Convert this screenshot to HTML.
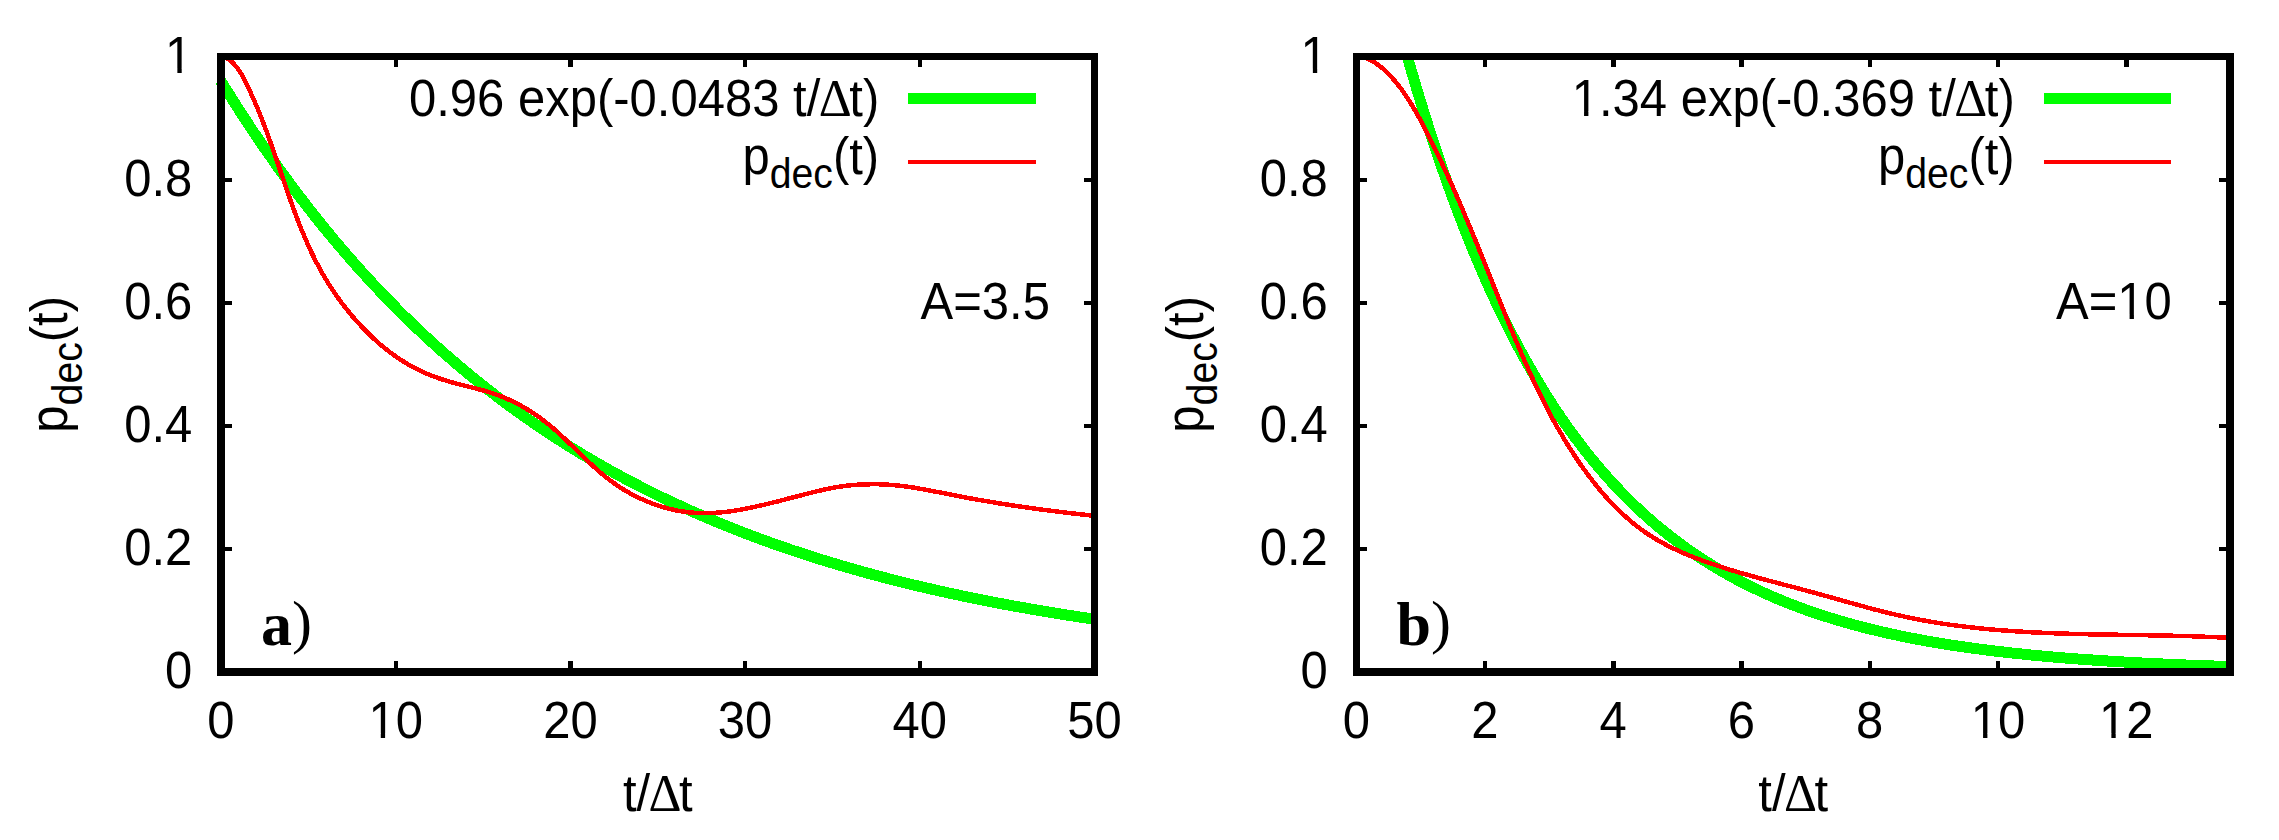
<!DOCTYPE html>
<html><head><meta charset="utf-8"><title>p_dec(t)</title>
<style>
html,body{margin:0;padding:0;background:#fff;}
svg{display:block}
text{font-family:"Liberation Sans",sans-serif;font-size:49.0px;fill:#000}
.sym{font-family:"Liberation Serif",serif;}
.sub{font-size:39.2px}
.lab{font-family:"Liberation Serif",serif;font-weight:bold;font-size:62px}
</style></head><body>
<svg width="2279" height="840" viewBox="0 0 2279 840">
<rect x="0" y="0" width="2279" height="840" fill="#fff"/>

<g shape-rendering="crispEdges">
<rect x="219" y="661" width="4" height="7" fill="#000"/>
<rect x="219" y="60" width="4" height="7" fill="#000"/>
<rect x="394" y="661" width="4" height="7" fill="#000"/>
<rect x="394" y="60" width="4" height="7" fill="#000"/>
<rect x="568" y="661" width="5" height="7" fill="#000"/>
<rect x="568" y="60" width="5" height="7" fill="#000"/>
<rect x="743" y="661" width="4" height="7" fill="#000"/>
<rect x="743" y="60" width="4" height="7" fill="#000"/>
<rect x="918" y="661" width="4" height="7" fill="#000"/>
<rect x="918" y="60" width="4" height="7" fill="#000"/>
<rect x="1092" y="661" width="5" height="7" fill="#000"/>
<rect x="1092" y="60" width="5" height="7" fill="#000"/>
<rect x="225" y="547" width="7" height="4" fill="#000"/>
<rect x="1084" y="547" width="7" height="4" fill="#000"/>
<rect x="225" y="424" width="7" height="4" fill="#000"/>
<rect x="1084" y="424" width="7" height="4" fill="#000"/>
<rect x="225" y="301" width="7" height="4" fill="#000"/>
<rect x="1084" y="301" width="7" height="4" fill="#000"/>
<rect x="225" y="178" width="7" height="4" fill="#000"/>
<rect x="1084" y="178" width="7" height="4" fill="#000"/>
<path d="M221.0,81.1 L223.9,85.9 L226.8,90.6 L229.8,95.3 L232.7,99.9 L235.6,104.5 L238.5,109.1 L241.4,113.6 L244.4,118.1 L247.3,122.5 L250.2,127.0 L253.1,131.4 L256.1,135.7 L259.0,140.0 L261.9,144.3 L264.8,148.5 L267.7,152.8 L270.7,156.9 L273.6,161.1 L276.5,165.2 L279.4,169.3 L282.3,173.3 L285.3,177.3 L288.2,181.3 L291.1,185.2 L294.0,189.2 L297.0,193.0 L299.9,196.9 L302.8,200.7 L305.7,204.5 L308.6,208.3 L311.6,212.0 L314.5,215.7 L317.4,219.4 L320.3,223.0 L323.2,226.6 L326.2,230.2 L329.1,233.8 L332.0,237.3 L334.9,240.8 L337.9,244.3 L340.8,247.7 L343.7,251.1 L346.6,254.5 L349.5,257.8 L352.5,261.2 L355.4,264.5 L358.3,267.8 L361.2,271.0 L364.1,274.2 L367.1,277.4 L370.0,280.6 L372.9,283.8 L375.8,286.9 L378.8,290.0 L381.7,293.1 L384.6,296.1 L387.5,299.1 L390.4,302.1 L393.4,305.1 L396.3,308.1 L399.2,311.0 L402.1,313.9 L405.0,316.8 L408.0,319.6 L410.9,322.5 L413.8,325.3 L416.7,328.1 L419.7,330.8 L422.6,333.6 L425.5,336.3 L428.4,339.0 L431.3,341.7 L434.3,344.3 L437.2,347.0 L440.1,349.6 L443.0,352.2 L445.9,354.8 L448.9,357.3 L451.8,359.8 L454.7,362.3 L457.6,364.8 L460.6,367.3 L463.5,369.8 L466.4,372.2 L469.3,374.6 L472.2,377.0 L475.2,379.4 L478.1,381.7 L481.0,384.1 L483.9,386.4 L486.8,388.7 L489.8,390.9 L492.7,393.2 L495.6,395.5 L498.5,397.7 L501.5,399.9 L504.4,402.1 L507.3,404.2 L510.2,406.4 L513.1,408.5 L516.1,410.7 L519.0,412.8 L521.9,414.8 L524.8,416.9 L527.7,419.0 L530.7,421.0 L533.6,423.0 L536.5,425.0 L539.4,427.0 L542.4,429.0 L545.3,430.9 L548.2,432.9 L551.1,434.8 L554.0,436.7 L557.0,438.6 L559.9,440.5 L562.8,442.3 L565.7,444.2 L568.6,446.0 L571.6,447.8 L574.5,449.6 L577.4,451.4 L580.3,453.2 L583.3,455.0 L586.2,456.7 L589.1,458.4 L592.0,460.2 L594.9,461.9 L597.9,463.6 L600.8,465.2 L603.7,466.9 L606.6,468.5 L609.5,470.2 L612.5,471.8 L615.4,473.4 L618.3,475.0 L621.2,476.6 L624.2,478.2 L627.1,479.7 L630.0,481.3 L632.9,482.8 L635.8,484.3 L638.8,485.8 L641.7,487.3 L644.6,488.8 L647.5,490.3 L650.4,491.8 L653.4,493.2 L656.3,494.6 L659.2,496.1 L662.1,497.5 L665.1,498.9 L668.0,500.3 L670.9,501.7 L673.8,503.0 L676.7,504.4 L679.7,505.7 L682.6,507.1 L685.5,508.4 L688.4,509.7 L691.3,511.0 L694.3,512.3 L697.2,513.6 L700.1,514.9 L703.0,516.1 L706.0,517.4 L708.9,518.6 L711.8,519.9 L714.7,521.1 L717.6,522.3 L720.6,523.5 L723.5,524.7 L726.4,525.9 L729.3,527.1 L732.2,528.2 L735.2,529.4 L738.1,530.5 L741.0,531.7 L743.9,532.8 L746.9,533.9 L749.8,535.0 L752.7,536.1 L755.6,537.2 L758.5,538.3 L761.5,539.4 L764.4,540.5 L767.3,541.5 L770.2,542.6 L773.1,543.6 L776.1,544.6 L779.0,545.7 L781.9,546.7 L784.8,547.7 L787.8,548.7 L790.7,549.7 L793.6,550.7 L796.5,551.6 L799.4,552.6 L802.4,553.6 L805.3,554.5 L808.2,555.5 L811.1,556.4 L814.0,557.3 L817.0,558.3 L819.9,559.2 L822.8,560.1 L825.7,561.0 L828.7,561.9 L831.6,562.8 L834.5,563.6 L837.4,564.5 L840.3,565.4 L843.3,566.2 L846.2,567.1 L849.1,567.9 L852.0,568.8 L854.9,569.6 L857.9,570.4 L860.8,571.2 L863.7,572.0 L866.6,572.9 L869.6,573.6 L872.5,574.4 L875.4,575.2 L878.3,576.0 L881.2,576.8 L884.2,577.5 L887.1,578.3 L890.0,579.1 L892.9,579.8 L895.8,580.5 L898.8,581.3 L901.7,582.0 L904.6,582.7 L907.5,583.5 L910.5,584.2 L913.4,584.9 L916.3,585.6 L919.2,586.3 L922.1,587.0 L925.1,587.6 L928.0,588.3 L930.9,589.0 L933.8,589.7 L936.7,590.3 L939.7,591.0 L942.6,591.6 L945.5,592.3 L948.4,592.9 L951.4,593.6 L954.3,594.2 L957.2,594.8 L960.1,595.4 L963.0,596.1 L966.0,596.7 L968.9,597.3 L971.8,597.9 L974.7,598.5 L977.6,599.1 L980.6,599.6 L983.5,600.2 L986.4,600.8 L989.3,601.4 L992.3,601.9 L995.2,602.5 L998.1,603.1 L1001.0,603.6 L1003.9,604.2 L1006.9,604.7 L1009.8,605.3 L1012.7,605.8 L1015.6,606.3 L1018.5,606.9 L1021.5,607.4 L1024.4,607.9 L1027.3,608.4 L1030.2,608.9 L1033.2,609.4 L1036.1,609.9 L1039.0,610.4 L1041.9,610.9 L1044.8,611.4 L1047.8,611.9 L1050.7,612.4 L1053.6,612.9 L1056.5,613.3 L1059.4,613.8 L1062.4,614.3 L1065.3,614.8 L1068.2,615.2 L1071.1,615.7 L1074.1,616.1 L1077.0,616.6 L1079.9,617.0 L1082.8,617.5 L1085.7,617.9 L1088.7,618.3 L1091.6,618.8 L1094.5,619.2" fill="none" stroke="#00ff00" stroke-width="11" stroke-linejoin="round"/>
<path d="M221.7,55.3 L226.2,57.6 L230.1,60.4 L233.6,63.6 L236.7,67.2 L239.5,71.2 L242.1,75.3 L244.4,79.7 L246.6,84.1 L248.8,88.6 L250.9,93.2 L252.9,97.7 L254.9,102.3 L256.9,106.9 L258.8,111.5 L260.7,116.2 L262.5,120.9 L264.3,125.5 L266.1,130.2 L267.8,134.9 L269.5,139.7 L271.2,144.4 L272.9,149.1 L274.5,153.9 L276.2,158.6 L277.8,163.4 L279.4,168.1 L281.0,172.9 L282.6,177.6 L284.3,182.4 L285.9,187.1 L287.5,191.8 L289.2,196.6 L290.8,201.3 L292.5,206.0 L294.2,210.7 L295.9,215.4 L297.7,220.0 L299.5,224.7 L301.4,229.3 L303.3,233.9 L305.2,238.5 L307.2,243.0 L309.2,247.6 L311.3,252.1 L313.5,256.5 L315.7,261.0 L318.0,265.4 L320.3,269.8 L322.8,274.1 L325.3,278.4 L327.9,282.6 L330.6,286.9 L333.3,291.0 L336.1,295.1 L339.0,299.2 L342.0,303.3 L345.0,307.2 L348.2,311.2 L351.3,315.0 L354.6,318.8 L358.0,322.6 L361.4,326.3 L364.9,329.9 L368.4,333.5 L372.0,337.0 L375.7,340.4 L379.5,343.8 L383.4,347.0 L387.3,350.1 L391.3,353.2 L395.3,356.1 L399.5,358.9 L403.7,361.6 L407.9,364.2 L412.3,366.6 L416.7,368.9 L421.2,371.1 L425.7,373.2 L430.3,375.1 L434.9,376.9 L439.6,378.5 L444.4,380.1 L449.1,381.6 L453.9,382.9 L458.7,384.2 L463.5,385.4 L468.3,386.6 L473.1,387.8 L478.0,389.1 L482.8,390.3 L487.5,391.7 L492.3,393.2 L497.0,394.8 L501.7,396.6 L506.3,398.5 L510.9,400.6 L515.5,402.8 L519.9,405.1 L524.4,407.6 L528.7,410.2 L532.9,412.9 L537.1,415.7 L541.2,418.6 L545.1,421.7 L549.0,424.8 L552.8,428.0 L556.6,431.3 L560.3,434.7 L564.0,438.1 L567.6,441.5 L571.2,445.0 L574.7,448.5 L578.3,452.0 L581.9,455.5 L585.5,458.9 L589.1,462.4 L592.8,465.8 L596.5,469.1 L600.2,472.4 L604.0,475.6 L607.9,478.7 L611.9,481.7 L616.0,484.6 L620.2,487.4 L624.4,490.1 L628.8,492.6 L633.2,495.0 L637.7,497.3 L642.3,499.4 L646.9,501.4 L651.6,503.3 L656.4,505.0 L661.1,506.6 L666.0,507.9 L670.8,509.2 L675.7,510.3 L680.6,511.2 L685.5,511.9 L690.4,512.5 L695.4,512.9 L700.3,513.1 L705.2,513.2 L710.1,513.1 L715.0,512.8 L719.9,512.5 L724.9,512.0 L729.8,511.4 L734.7,510.6 L739.6,509.8 L744.5,508.9 L749.4,508.0 L754.3,506.9 L759.2,505.8 L764.1,504.7 L769.0,503.5 L774.0,502.3 L778.9,501.1 L783.8,499.8 L788.7,498.5 L793.6,497.3 L798.5,496.0 L803.4,494.7 L808.3,493.4 L813.2,492.2 L818.2,491.0 L823.1,489.8 L828.0,488.8 L832.9,487.8 L837.8,487.0 L842.7,486.3 L847.7,485.6 L852.6,485.1 L857.5,484.7 L862.4,484.4 L867.4,484.3 L872.3,484.2 L877.2,484.2 L882.1,484.4 L887.1,484.6 L892.0,485.0 L896.9,485.4 L901.9,486.0 L906.8,486.6 L911.7,487.3 L916.7,488.1 L921.6,489.0 L926.5,489.9 L931.5,490.8 L936.4,491.8 L941.3,492.7 L946.3,493.7 L951.2,494.7 L956.2,495.7 L961.1,496.6 L966.0,497.6 L971.0,498.5 L975.9,499.4 L980.9,500.2 L985.8,501.1 L990.8,501.9 L995.7,502.8 L1000.6,503.6 L1005.6,504.3 L1010.5,505.1 L1015.5,505.9 L1020.4,506.6 L1025.4,507.3 L1030.3,508.0 L1035.3,508.7 L1040.2,509.4 L1045.2,510.0 L1050.1,510.7 L1055.1,511.3 L1060.0,511.9 L1065.0,512.5 L1069.9,513.1 L1074.9,513.6 L1079.8,514.2 L1084.8,514.7 L1089.7,515.3 L1094.4,515.7" fill="none" stroke="#ff0000" stroke-width="4.5" stroke-linejoin="round"/>
<rect x="216" y="83" width="1" height="2" fill="#00ff00"/>
<rect x="908" y="93" width="128" height="11" fill="#00ff00"/>
<rect x="908" y="160" width="128" height="4" fill="#ff0000"/>
<rect x="217" y="53" width="881" height="7" fill="#000"/>
<rect x="217" y="668" width="881" height="8" fill="#000"/>
<rect x="217" y="53" width="8" height="623" fill="#000"/>
<rect x="1091" y="53" width="7" height="623" fill="#000"/>
</g>
<text transform="translate(192.3,688.3) scale(1,1.065)" text-anchor="end">0</text>
<text transform="translate(192.3,565.2) scale(1,1.065)" text-anchor="end">0.2</text>
<text transform="translate(192.3,442.1) scale(1,1.065)" text-anchor="end">0.4</text>
<text transform="translate(192.3,319.0) scale(1,1.065)" text-anchor="end">0.6</text>
<text transform="translate(192.3,195.9) scale(1,1.065)" text-anchor="end">0.8</text>
<text transform="translate(192.3,72.8) scale(1,1.065)" text-anchor="end">1</text>
<text transform="translate(221.0,737.5) scale(1,1.065)" text-anchor="middle">0</text>
<text transform="translate(395.7,737.5) scale(1,1.065)" text-anchor="middle">10</text>
<text transform="translate(570.4,737.5) scale(1,1.065)" text-anchor="middle">20</text>
<text transform="translate(745.1,737.5) scale(1,1.065)" text-anchor="middle">30</text>
<text transform="translate(919.8,737.5) scale(1,1.065)" text-anchor="middle">40</text>
<text transform="translate(1094.5,737.5) scale(1,1.065)" text-anchor="middle">50</text>
<text transform="translate(657.8,810.6) scale(1,1.065)" text-anchor="middle">t/<tspan class="sym" dx="-1.5" textLength="33" lengthAdjust="spacingAndGlyphs">Δ</tspan><tspan dx="-2.5">t</tspan></text>
<text transform="translate(67.2,364.3) rotate(-90) scale(1,1.065)" text-anchor="middle">p<tspan class="sub" dy="13.5">dec</tspan><tspan dy="-13.5">(t)</tspan></text>
<text transform="translate(879.2,115.5) scale(1,1.065)" text-anchor="end">0.96 exp(-0.0483 t/<tspan class="sym" dx="-1.5" textLength="33" lengthAdjust="spacingAndGlyphs">Δ</tspan><tspan dx="-2.5">t</tspan>)</text>
<text transform="translate(879.2,173.7) scale(1,1.065)" text-anchor="end">p<tspan class="sub" dy="13.5">dec</tspan><tspan dy="-13.5">(t)</tspan></text>
<text transform="translate(920.5,318.8) scale(1,1.065)" text-anchor="start">A=3.5</text>
<text class="lab" x="261.0" y="645">a<tspan dy="-3" style="font-size:60px;font-weight:normal">)</tspan></text>
<g shape-rendering="crispEdges">
<rect x="1354" y="661" width="5" height="7" fill="#000"/>
<rect x="1354" y="60" width="5" height="7" fill="#000"/>
<rect x="1483" y="661" width="4" height="7" fill="#000"/>
<rect x="1483" y="60" width="4" height="7" fill="#000"/>
<rect x="1611" y="661" width="5" height="7" fill="#000"/>
<rect x="1611" y="60" width="5" height="7" fill="#000"/>
<rect x="1739" y="661" width="5" height="7" fill="#000"/>
<rect x="1739" y="60" width="5" height="7" fill="#000"/>
<rect x="1868" y="661" width="4" height="7" fill="#000"/>
<rect x="1868" y="60" width="4" height="7" fill="#000"/>
<rect x="1996" y="661" width="4" height="7" fill="#000"/>
<rect x="1996" y="60" width="4" height="7" fill="#000"/>
<rect x="2124" y="661" width="5" height="7" fill="#000"/>
<rect x="2124" y="60" width="5" height="7" fill="#000"/>
<rect x="1360" y="547" width="7" height="4" fill="#000"/>
<rect x="2219" y="547" width="7" height="4" fill="#000"/>
<rect x="1360" y="424" width="7" height="4" fill="#000"/>
<rect x="2219" y="424" width="7" height="4" fill="#000"/>
<rect x="1360" y="301" width="7" height="4" fill="#000"/>
<rect x="2219" y="301" width="7" height="4" fill="#000"/>
<rect x="1360" y="178" width="7" height="4" fill="#000"/>
<rect x="2219" y="178" width="7" height="4" fill="#000"/>
<path d="M1407.4,56.5 L1410.1,66.2 L1412.9,75.7 L1415.6,85.0 L1418.4,94.3 L1421.1,103.3 L1423.9,112.3 L1426.6,121.0 L1429.4,129.7 L1432.1,138.2 L1434.9,146.6 L1437.6,154.8 L1440.4,163.0 L1443.1,171.0 L1445.9,178.8 L1448.6,186.6 L1451.4,194.2 L1454.2,201.7 L1456.9,209.1 L1459.7,216.3 L1462.4,223.5 L1465.2,230.5 L1467.9,237.5 L1470.7,244.3 L1473.4,251.0 L1476.2,257.6 L1478.9,264.1 L1481.7,270.5 L1484.4,276.8 L1487.2,283.0 L1489.9,289.1 L1492.7,295.2 L1495.4,301.1 L1498.2,306.9 L1500.9,312.6 L1503.7,318.3 L1506.4,323.8 L1509.2,329.3 L1511.9,334.7 L1514.7,340.0 L1517.4,345.2 L1520.2,350.3 L1522.9,355.4 L1525.7,360.3 L1528.4,365.2 L1531.2,370.0 L1533.9,374.8 L1536.7,379.4 L1539.4,384.0 L1542.2,388.6 L1544.9,393.0 L1547.7,397.4 L1550.4,401.7 L1553.2,406.0 L1555.9,410.1 L1558.7,414.2 L1561.4,418.3 L1564.2,422.3 L1567.0,426.2 L1569.7,430.1 L1572.5,433.8 L1575.2,437.6 L1578.0,441.3 L1580.7,444.9 L1583.5,448.5 L1586.2,452.0 L1589.0,455.4 L1591.7,458.8 L1594.5,462.2 L1597.2,465.5 L1600.0,468.7 L1602.7,471.9 L1605.5,475.0 L1608.2,478.1 L1611.0,481.2 L1613.7,484.2 L1616.5,487.1 L1619.2,490.0 L1622.0,492.9 L1624.7,495.7 L1627.5,498.5 L1630.2,501.2 L1633.0,503.9 L1635.7,506.5 L1638.5,509.1 L1641.2,511.7 L1644.0,514.2 L1646.7,516.7 L1649.5,519.1 L1652.2,521.5 L1655.0,523.9 L1657.7,526.2 L1660.5,528.5 L1663.2,530.7 L1666.0,532.9 L1668.7,535.1 L1671.5,537.3 L1674.3,539.4 L1677.0,541.5 L1679.8,543.5 L1682.5,545.5 L1685.3,547.5 L1688.0,549.5 L1690.8,551.4 L1693.5,553.3 L1696.3,555.2 L1699.0,557.0 L1701.8,558.8 L1704.5,560.6 L1707.3,562.3 L1710.0,564.1 L1712.8,565.7 L1715.5,567.4 L1718.3,569.1 L1721.0,570.7 L1723.8,572.3 L1726.5,573.8 L1729.3,575.4 L1732.0,576.9 L1734.8,578.4 L1737.5,579.9 L1740.3,581.3 L1743.0,582.7 L1745.8,584.1 L1748.5,585.5 L1751.3,586.9 L1754.0,588.2 L1756.8,589.5 L1759.5,590.8 L1762.3,592.1 L1765.0,593.3 L1767.8,594.6 L1770.5,595.8 L1773.3,597.0 L1776.0,598.2 L1778.8,599.3 L1781.5,600.5 L1784.3,601.6 L1787.1,602.7 L1789.8,603.8 L1792.6,604.9 L1795.3,605.9 L1798.1,606.9 L1800.8,608.0 L1803.6,609.0 L1806.3,610.0 L1809.1,610.9 L1811.8,611.9 L1814.6,612.8 L1817.3,613.8 L1820.1,614.7 L1822.8,615.6 L1825.6,616.5 L1828.3,617.3 L1831.1,618.2 L1833.8,619.0 L1836.6,619.9 L1839.3,620.7 L1842.1,621.5 L1844.8,622.3 L1847.6,623.1 L1850.3,623.8 L1853.1,624.6 L1855.8,625.3 L1858.6,626.1 L1861.3,626.8 L1864.1,627.5 L1866.8,628.2 L1869.6,628.9 L1872.3,629.6 L1875.1,630.2 L1877.8,630.9 L1880.6,631.5 L1883.3,632.2 L1886.1,632.8 L1888.8,633.4 L1891.6,634.0 L1894.3,634.6 L1897.1,635.2 L1899.9,635.8 L1902.6,636.3 L1905.4,636.9 L1908.1,637.5 L1910.9,638.0 L1913.6,638.5 L1916.4,639.1 L1919.1,639.6 L1921.9,640.1 L1924.6,640.6 L1927.4,641.1 L1930.1,641.6 L1932.9,642.0 L1935.6,642.5 L1938.4,643.0 L1941.1,643.4 L1943.9,643.9 L1946.6,644.3 L1949.4,644.8 L1952.1,645.2 L1954.9,645.6 L1957.6,646.0 L1960.4,646.4 L1963.1,646.8 L1965.9,647.2 L1968.6,647.6 L1971.4,648.0 L1974.1,648.4 L1976.9,648.7 L1979.6,649.1 L1982.4,649.5 L1985.1,649.8 L1987.9,650.2 L1990.6,650.5 L1993.4,650.9 L1996.1,651.2 L1998.9,651.5 L2001.6,651.8 L2004.4,652.1 L2007.1,652.5 L2009.9,652.8 L2012.7,653.1 L2015.4,653.4 L2018.2,653.7 L2020.9,653.9 L2023.7,654.2 L2026.4,654.5 L2029.2,654.8 L2031.9,655.1 L2034.7,655.3 L2037.4,655.6 L2040.2,655.8 L2042.9,656.1 L2045.7,656.3 L2048.4,656.6 L2051.2,656.8 L2053.9,657.1 L2056.7,657.3 L2059.4,657.5 L2062.2,657.8 L2064.9,658.0 L2067.7,658.2 L2070.4,658.4 L2073.2,658.6 L2075.9,658.8 L2078.7,659.1 L2081.4,659.3 L2084.2,659.5 L2086.9,659.7 L2089.7,659.8 L2092.4,660.0 L2095.2,660.2 L2097.9,660.4 L2100.7,660.6 L2103.4,660.8 L2106.2,660.9 L2108.9,661.1 L2111.7,661.3 L2114.4,661.5 L2117.2,661.6 L2120.0,661.8 L2122.7,661.9 L2125.5,662.1 L2128.2,662.3 L2131.0,662.4 L2133.7,662.6 L2136.5,662.7 L2139.2,662.9 L2142.0,663.0 L2144.7,663.1 L2147.5,663.3 L2150.2,663.4 L2153.0,663.6 L2155.7,663.7 L2158.5,663.8 L2161.2,663.9 L2164.0,664.1 L2166.7,664.2 L2169.5,664.3 L2172.2,664.4 L2175.0,664.6 L2177.7,664.7 L2180.5,664.8 L2183.2,664.9 L2186.0,665.0 L2188.7,665.1 L2191.5,665.2 L2194.2,665.3 L2197.0,665.4 L2199.7,665.5 L2202.5,665.6 L2205.2,665.7 L2208.0,665.8 L2210.7,665.9 L2213.5,666.0 L2216.2,666.1 L2219.0,666.2 L2221.7,666.3 L2224.5,666.4 L2227.2,666.5 L2230.0,666.6" fill="none" stroke="#00ff00" stroke-width="11" stroke-linejoin="round"/>
<path d="M1357.7,55.2 L1362.3,56.5 L1366.7,58.2 L1370.9,60.3 L1374.9,62.7 L1378.8,65.4 L1382.6,68.4 L1386.1,71.6 L1389.6,75.1 L1392.9,78.7 L1396.1,82.4 L1399.2,86.3 L1402.2,90.3 L1405.0,94.3 L1407.8,98.5 L1410.5,102.8 L1413.1,107.1 L1415.7,111.5 L1418.1,115.9 L1420.6,120.4 L1423.0,124.9 L1425.3,129.5 L1427.6,134.0 L1429.9,138.5 L1432.2,143.0 L1434.4,147.6 L1436.6,152.1 L1438.8,156.7 L1441.0,161.2 L1443.1,165.8 L1445.2,170.3 L1447.3,174.9 L1449.4,179.4 L1451.4,184.0 L1453.5,188.6 L1455.5,193.2 L1457.5,197.7 L1459.5,202.3 L1461.5,206.9 L1463.4,211.5 L1465.3,216.1 L1467.3,220.7 L1469.2,225.2 L1471.1,229.8 L1473.0,234.4 L1474.9,239.0 L1476.8,243.6 L1478.6,248.2 L1480.5,252.9 L1482.4,257.5 L1484.2,262.1 L1486.1,266.7 L1487.9,271.3 L1489.8,275.9 L1491.6,280.5 L1493.4,285.2 L1495.3,289.8 L1497.1,294.4 L1499.0,299.0 L1500.9,303.7 L1502.7,308.3 L1504.6,312.9 L1506.4,317.6 L1508.3,322.2 L1510.2,326.8 L1512.1,331.4 L1514.0,336.1 L1516.0,340.7 L1517.9,345.3 L1519.9,349.9 L1521.8,354.5 L1523.8,359.1 L1525.8,363.7 L1527.9,368.3 L1529.9,372.8 L1532.0,377.4 L1534.1,381.9 L1536.2,386.5 L1538.4,391.0 L1540.6,395.5 L1542.8,400.0 L1545.1,404.4 L1547.4,408.9 L1549.7,413.3 L1552.0,417.7 L1554.4,422.1 L1556.9,426.5 L1559.4,430.8 L1561.9,435.1 L1564.4,439.4 L1567.0,443.7 L1569.7,448.0 L1572.4,452.2 L1575.1,456.4 L1577.9,460.6 L1580.7,464.7 L1583.6,468.8 L1586.6,472.9 L1589.6,476.9 L1592.7,480.9 L1595.8,484.9 L1598.9,488.8 L1602.2,492.6 L1605.5,496.4 L1608.8,500.1 L1612.3,503.8 L1615.7,507.4 L1619.3,510.9 L1622.9,514.3 L1626.6,517.6 L1630.4,520.9 L1634.2,524.1 L1638.1,527.1 L1642.1,530.1 L1646.1,532.9 L1650.3,535.7 L1654.5,538.3 L1658.7,540.8 L1663.1,543.2 L1667.5,545.6 L1671.9,547.8 L1676.5,549.9 L1681.0,552.0 L1685.6,554.0 L1690.2,555.9 L1694.9,557.7 L1699.6,559.5 L1704.3,561.2 L1709.0,562.9 L1713.8,564.5 L1718.5,566.1 L1723.3,567.6 L1728.0,569.1 L1732.8,570.6 L1737.5,572.0 L1742.3,573.4 L1747.1,574.7 L1751.9,576.1 L1756.7,577.4 L1761.4,578.7 L1766.2,580.0 L1771.0,581.3 L1775.8,582.5 L1780.6,583.8 L1785.4,585.1 L1790.3,586.3 L1795.1,587.6 L1799.9,588.9 L1804.7,590.2 L1809.6,591.5 L1814.4,592.8 L1819.2,594.1 L1824.1,595.5 L1828.9,596.8 L1833.8,598.2 L1838.6,599.5 L1843.5,600.9 L1848.4,602.3 L1853.2,603.6 L1858.1,605.0 L1863.0,606.3 L1867.8,607.7 L1872.7,609.0 L1877.6,610.2 L1882.5,611.5 L1887.4,612.7 L1892.3,613.9 L1897.2,615.0 L1902.1,616.1 L1907.0,617.2 L1911.9,618.2 L1916.8,619.2 L1921.7,620.1 L1926.7,621.0 L1931.6,621.9 L1936.5,622.7 L1941.4,623.5 L1946.4,624.2 L1951.3,624.9 L1956.3,625.6 L1961.2,626.2 L1966.1,626.8 L1971.1,627.4 L1976.0,627.9 L1981.0,628.5 L1985.9,628.9 L1990.9,629.4 L1995.9,629.8 L2000.8,630.2 L2005.8,630.6 L2010.7,631.0 L2015.7,631.3 L2020.7,631.6 L2025.7,631.9 L2030.6,632.2 L2035.6,632.5 L2040.6,632.7 L2045.6,632.9 L2050.6,633.1 L2055.5,633.3 L2060.5,633.5 L2065.5,633.6 L2070.5,633.8 L2075.5,633.9 L2080.5,634.1 L2085.5,634.2 L2090.5,634.3 L2095.5,634.4 L2100.5,634.5 L2105.5,634.6 L2110.5,634.7 L2115.5,634.7 L2120.5,634.8 L2125.5,634.9 L2130.5,635.0 L2135.5,635.1 L2140.5,635.1 L2145.5,635.2 L2150.5,635.3 L2155.5,635.4 L2160.5,635.5 L2165.5,635.6 L2170.5,635.7 L2175.5,635.8 L2180.6,636.0 L2185.6,636.1 L2190.6,636.2 L2195.6,636.4 L2200.6,636.6 L2205.6,636.8 L2210.6,637.0 L2215.6,637.2 L2220.6,637.4 L2225.7,637.7 L2230.1,637.9" fill="none" stroke="#ff0000" stroke-width="4.5" stroke-linejoin="round"/>
<rect x="2044" y="93" width="127" height="11" fill="#00ff00"/>
<rect x="2044" y="160" width="127" height="4" fill="#ff0000"/>
<rect x="1353" y="53" width="881" height="7" fill="#000"/>
<rect x="1353" y="668" width="881" height="8" fill="#000"/>
<rect x="1353" y="53" width="7" height="623" fill="#000"/>
<rect x="2226" y="53" width="8" height="623" fill="#000"/>
</g>
<text transform="translate(1327.8,688.3) scale(1,1.065)" text-anchor="end">0</text>
<text transform="translate(1327.8,565.2) scale(1,1.065)" text-anchor="end">0.2</text>
<text transform="translate(1327.8,442.1) scale(1,1.065)" text-anchor="end">0.4</text>
<text transform="translate(1327.8,319.0) scale(1,1.065)" text-anchor="end">0.6</text>
<text transform="translate(1327.8,195.9) scale(1,1.065)" text-anchor="end">0.8</text>
<text transform="translate(1327.8,72.8) scale(1,1.065)" text-anchor="end">1</text>
<text transform="translate(1356.5,737.5) scale(1,1.065)" text-anchor="middle">0</text>
<text transform="translate(1484.8,737.5) scale(1,1.065)" text-anchor="middle">2</text>
<text transform="translate(1613.1,737.5) scale(1,1.065)" text-anchor="middle">4</text>
<text transform="translate(1741.4,737.5) scale(1,1.065)" text-anchor="middle">6</text>
<text transform="translate(1869.7,737.5) scale(1,1.065)" text-anchor="middle">8</text>
<text transform="translate(1998.0,737.5) scale(1,1.065)" text-anchor="middle">10</text>
<text transform="translate(2126.3,737.5) scale(1,1.065)" text-anchor="middle">12</text>
<text transform="translate(1793.2,810.6) scale(1,1.065)" text-anchor="middle">t/<tspan class="sym" dx="-1.5" textLength="33" lengthAdjust="spacingAndGlyphs">Δ</tspan><tspan dx="-2.5">t</tspan></text>
<text transform="translate(1202.7,364.3) rotate(-90) scale(1,1.065)" text-anchor="middle">p<tspan class="sub" dy="13.5">dec</tspan><tspan dy="-13.5">(t)</tspan></text>
<text transform="translate(2014.7,115.5) scale(1,1.065)" text-anchor="end">1.34 exp(-0.369 t/<tspan class="sym" dx="-1.5" textLength="33" lengthAdjust="spacingAndGlyphs">Δ</tspan><tspan dx="-2.5">t</tspan>)</text>
<text transform="translate(2014.7,173.7) scale(1,1.065)" text-anchor="end">p<tspan class="sub" dy="13.5">dec</tspan><tspan dy="-13.5">(t)</tspan></text>
<text transform="translate(2056.0,318.8) scale(1,1.065)" text-anchor="start">A=10</text>
<text class="lab" x="1396.5" y="645">b<tspan dy="-3" style="font-size:60px;font-weight:normal">)</tspan></text>
<g><rect x="167.98" y="68.80" width="9.39" height="4.80" fill="#fff"/>
<rect x="181.70" y="68.80" width="9.01" height="4.80" fill="#fff"/>
<rect x="371.38" y="733.50" width="9.39" height="4.80" fill="#fff"/>
<rect x="385.10" y="733.50" width="9.01" height="4.80" fill="#fff"/>
<rect x="1303.48" y="68.80" width="9.39" height="4.80" fill="#fff"/>
<rect x="1317.20" y="68.80" width="9.01" height="4.80" fill="#fff"/>
<rect x="1973.68" y="733.50" width="9.39" height="4.80" fill="#fff"/>
<rect x="1987.40" y="733.50" width="9.01" height="4.80" fill="#fff"/>
<rect x="2101.98" y="733.50" width="9.39" height="4.80" fill="#fff"/>
<rect x="2115.70" y="733.50" width="9.01" height="4.80" fill="#fff"/>
<rect x="1574.67" y="111.50" width="9.39" height="4.80" fill="#fff"/>
<rect x="1588.39" y="111.50" width="9.01" height="4.80" fill="#fff"/>
<rect x="2120.21" y="314.80" width="9.39" height="4.80" fill="#fff"/>
<rect x="2133.93" y="314.80" width="9.01" height="4.80" fill="#fff"/></g>
</svg></body></html>
